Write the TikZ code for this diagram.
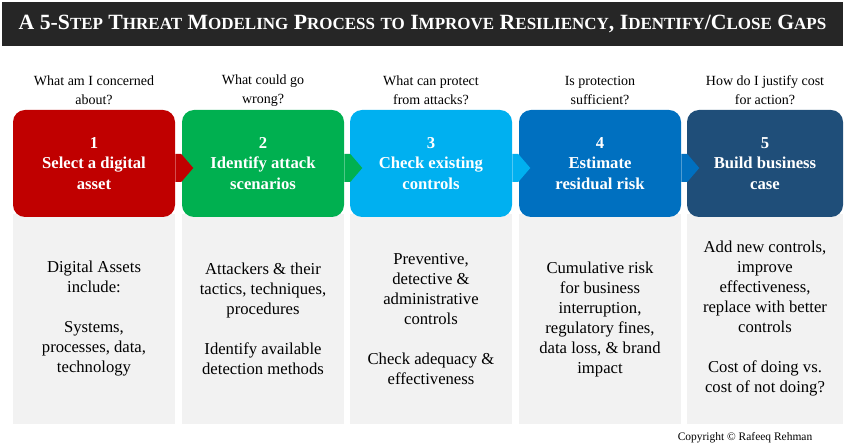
\documentclass[tikz,border=0pt]{standalone}
\usepackage{fontspec}
\setmainfont{Liberation Serif}
\definecolor{titlegray}{HTML}{262626}
\definecolor{stepred}{HTML}{C00000}
\definecolor{stepgreen}{HTML}{00B050}
\definecolor{steplight}{HTML}{00B0F0}
\definecolor{stepblue}{HTML}{0070C0}
\definecolor{stepnavy}{HTML}{1F4E79}
\definecolor{panelgray}{HTML}{F2F2F2}
\newcommand{\capword}[2]{#1{\fontsize{12.75}{12.75}\selectfont #2}}

\begin{document}
\begin{tikzpicture}[x=0.75pt,y=-0.75pt]
\tikzstyle{stepbox} = [rounded corners=9pt, minimum width=121.5pt, minimum height=80.25pt, align=center, text=white, font=\fontsize{12.5}{15.4}\selectfont\bfseries]
\tikzstyle{detail} = [fill=panelgray, minimum width=121.5pt, minimum height=157.5pt, align=center, font=\fontsize{12.5}{15}\selectfont]
\tikzstyle{ask} = [align=center, font=\fontsize{10.5}{14.25}\selectfont]
\useasboundingbox (0,0) rectangle (845,448);
% title bar
\node [fill=titlegray, text=white, minimum width=630.75pt, minimum height=33pt, font=\fontsize{16.3}{16.3}\selectfont\bfseries] (title) at (422.5,24)
{A 5-\capword{S}{TEP} \capword{T}{HREAT} \capword{M}{ODELING} \capword{P}{ROCESS} \capword{}{TO} \capword{I}{MPROVE} \capword{R}{ESILIENCY}, \capword{I}{DENTIFY}/\capword{C}{LOSE} \capword{G}{APS}};
% questions
\node [ask] (q1) at (94,90.5) {What am I concerned\\about?};
\node [ask] (q2) at (263,90.5) {What could go\\wrong?};
\node [ask] (q3) at (431,90.5) {What can protect\\from attacks?};
\node [ask] (q4) at (600,90.5) {Is protection\\sufficient?};
\node [ask] (q5) at (765,90.5) {How do I justify cost\\for action?};
% gray panels
\node [detail] (d1) at (94,319) {Digital Assets\\include:\\[15pt]Systems,\\processes, data,\\technology};
\node [detail] (d2) at (263,319) {Attackers \& their\\tactics, techniques,\\procedures\\[15pt]Identify available\\detection methods};
\node [detail] (d3) at (431,319) {Preventive,\\detective \&\\administrative\\controls\\[15pt]Check adequacy \&\\effectiveness};
\node [detail] (d4) at (600,319) {Cumulative risk\\for business\\interruption,\\regulatory fines,\\data loss, \& brand\\impact};
\node [detail, minimum width=117pt] (d5) at (765,319) {Add new controls,\\improve\\effectiveness,\\replace with better\\controls\\[15pt]Cost of doing vs.\\cost of not doing?};
% steps
\node [stepbox, fill=stepred] (s1) at (94,163.5) {1\\Select a digital\\asset};
\node [stepbox, fill=stepgreen] (s2) at (263,163.5) {2\\Identify attack\\scenarios};
\node [stepbox, fill=steplight] (s3) at (431,163.5) {3\\Check existing\\controls};
\node [stepbox, fill=stepblue] (s4) at (600,163.5) {4\\Estimate\\residual risk};
\node [stepbox, fill=stepnavy, minimum width=117pt] (s5) at (765,163.5) {5\\Build business\\case};
% arrow tabs
\fill [stepred] ([shift={(0,-9.5)}]s1.east) -- ++(6,0) -- ++(12,14) -- ++(-12,14) -- ++(-6,0) -- cycle;
\fill [stepgreen] ([shift={(0,-9.5)}]s2.east) -- ++(6,0) -- ++(12,14) -- ++(-12,14) -- ++(-6,0) -- cycle;
\fill [steplight] ([shift={(0,-9.5)}]s3.east) -- ++(6,0) -- ++(12,14) -- ++(-12,14) -- ++(-6,0) -- cycle;
\fill [stepblue] ([shift={(0,-9.5)}]s4.east) -- ++(6,0) -- ++(12,14) -- ++(-12,14) -- ++(-6,0) -- cycle;
\node [font=\fontsize{8.6}{10}\selectfont] (copy) at (745,438) {Copyright \textcopyright{} Rafeeq Rehman};
\end{tikzpicture}
\end{document}
